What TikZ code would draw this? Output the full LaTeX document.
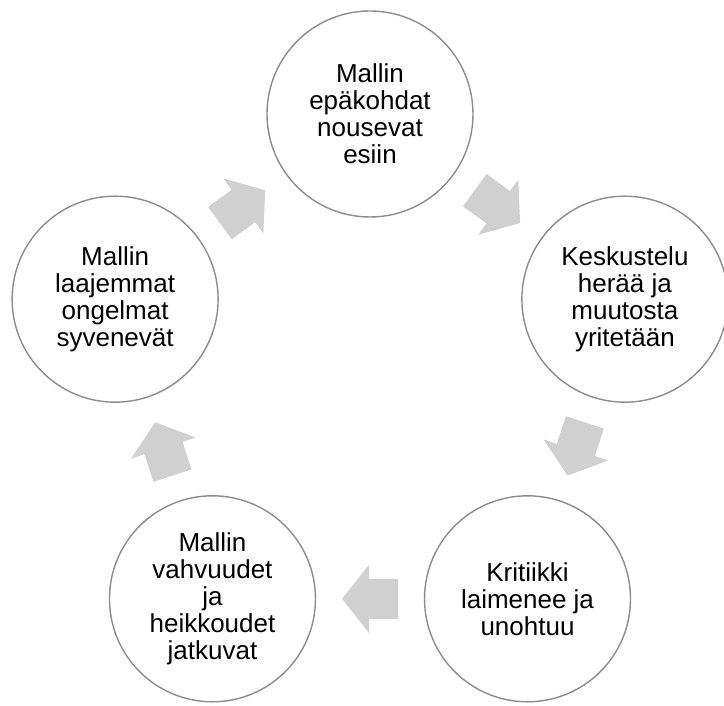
\documentclass[tikz,border=0pt]{standalone}
\usepackage{fontspec}
\setmainfont{Liberation Sans}
\usetikzlibrary{calc}
\definecolor{ringgray}{HTML}{8C8C8C}
\definecolor{arrowgray}{HTML}{D0D0D0}
\begin{document}
\begin{tikzpicture}[x=1pt,y=1pt,
  stage/.style={circle, draw=ringgray, line width=1.4pt, fill=white, minimum size=206pt, inner sep=0pt, align=center, font=\fontsize{26}{27}\selectfont},
  blockarrow/.style={fill=arrowgray, draw=none}]
\useasboundingbox (0,0) rectangle (724,706);
\coordinate (c) at (370,324);
\node[stage] (n1) at ($(c)+(90:268)$) {Mallin\\epäkohdat\\nousevat\\esiin};
\node[stage] (n2) at ($(c)+(18:268)$) {Keskustelu\\herää ja\\muutosta\\yritetään};
\node[stage] (n3) at ($(c)+(-54:268)$) {Kritiikki\\laimenee ja\\unohtuu};
\node[stage] (n4) at ($(c)+(-126:268)$) {Mallin\\vahvuudet\\ja\\heikkoudet\\jatkuvat};
\node[stage] (n5) at ($(c)+(162:268)$) {Mallin\\laajemmat\\ongelmat\\syvenevät};
\foreach \a/\b/\ang in {n1/n2/-36, n2/n3/-108, n3/n4/180, n4/n5/108, n5/n1/36}{
  \fill[blockarrow, shift={($(\a)!0.5!(\b)$)}, rotate=\ang]
    (-28,-20) -- (1,-20) -- (1,-34) -- (28,0) -- (1,34) -- (1,20) -- (-28,20) -- cycle;
}
\end{tikzpicture}
\end{document}
